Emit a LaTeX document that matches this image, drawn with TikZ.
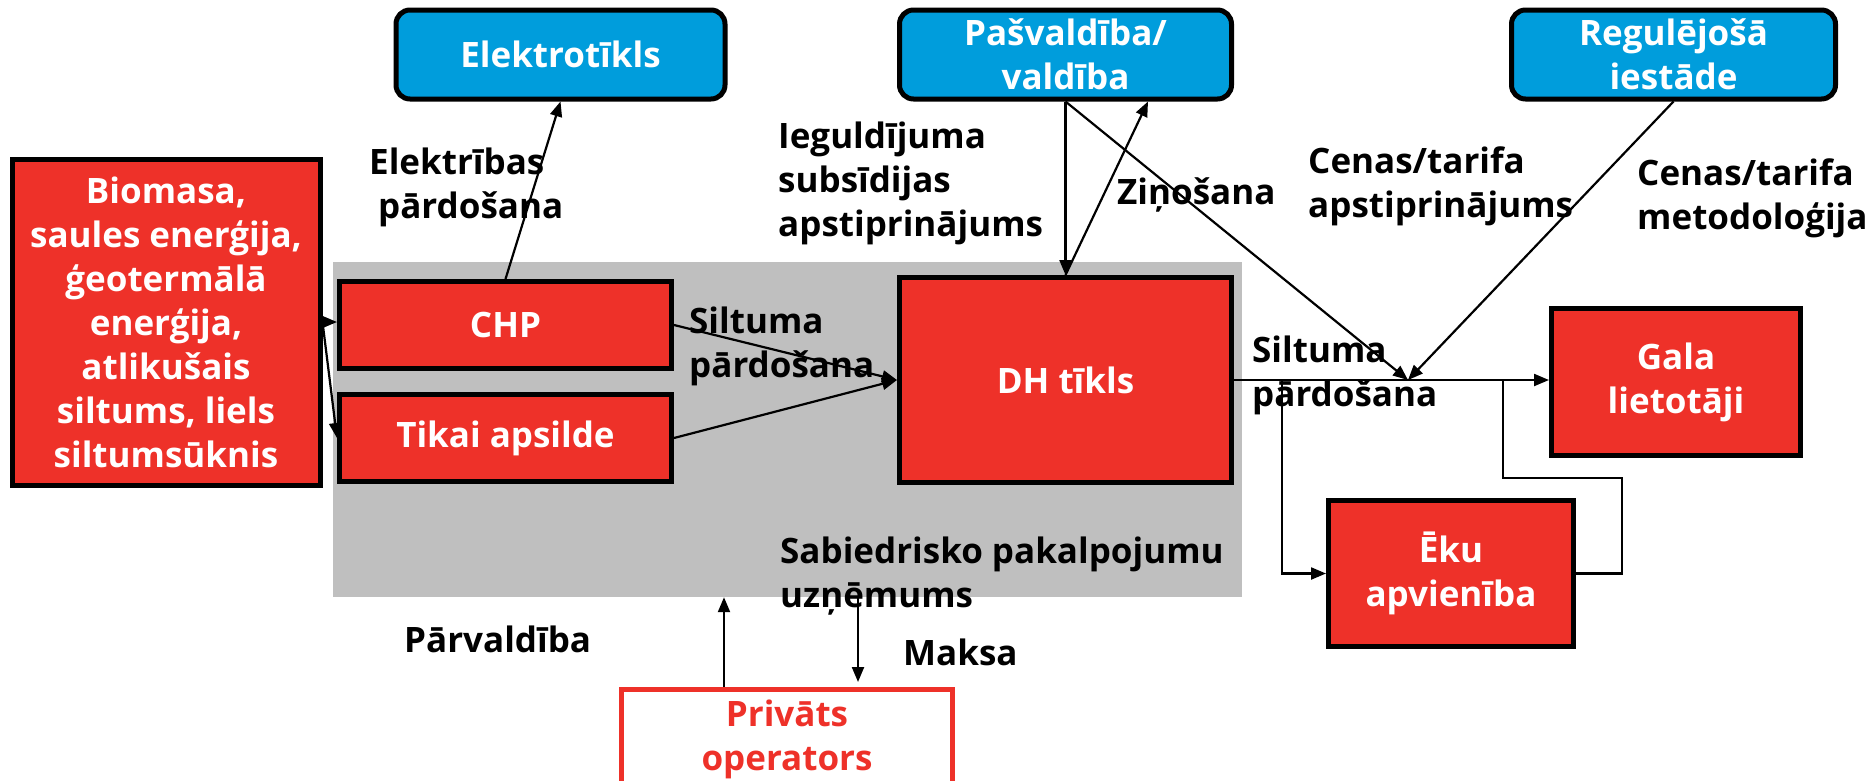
\documentclass[tikz,border=0pt]{standalone}
\usepackage{fontspec}
\setmainfont{Open Sans}
\usetikzlibrary{arrows.meta,calc}
\definecolor{boxred}{RGB}{238,49,41}
\definecolor{boxblue}{RGB}{0,157,220}
\definecolor{utilgrey}{RGB}{191,191,191}
\tikzset{
  txt/.style={font=\bfseries\fontsize{35}{44}\selectfont, inner sep=0pt, align=center},
  redbox/.style={txt, rectangle, draw=black, fill=boxred, text=white, line width=5pt},
  bluebox/.style={txt, rectangle, draw=black, fill=boxblue, text=white, line width=5pt, rounded corners=14pt},
  operbox/.style={txt, rectangle, draw=boxred, fill=white, text=boxred, line width=5pt},
  lbl/.style={font=\bfseries\fontsize{35}{44}\selectfont, inner sep=0pt, align=left, anchor=west},
  lblone/.style={font=\bfseries\fontsize{35}{44}\selectfont, inner sep=0pt, anchor=base west},
  conn/.style={line width=2.2pt, -{Triangle[length=15pt,width=12pt]}},
  plain/.style={line width=2.2pt},
}
\begin{document}
\begin{tikzpicture}[x=1pt,y=-1pt]
\useasboundingbox (0,0) rectangle (1869,780);
\clip (0,0) rectangle (1869,780);
\fill[white] (0,0) rectangle (1869,780);

% utility company area
\node[rectangle, fill=utilgrey, minimum width=909pt, minimum height=335pt, inner sep=0pt] (grey) at (787.5,429.5) {};

% external parties
\node[bluebox, minimum width=329pt, minimum height=89pt] (elek) at (560.5,54.5) {Elektrotīkls};
\node[bluebox, minimum width=332pt, minimum height=89pt] (pas) at (1065.5,54.5) {Pašvaldība/\\valdība};
\node[bluebox, minimum width=324pt, minimum height=89pt] (reg) at (1673.5,54.5) {Regulējošā\\iestāde};

% heat sources and production
\node[redbox, minimum width=308pt, minimum height=326pt] (bio) at (166,322) {Biomasa,\\saules enerģija,\\ģeotermālā\\enerģija,\\atlikušais\\siltums, liels\\siltumsūknis};
\node[redbox, minimum width=332pt, minimum height=87pt] (chp) at (505.5,325) {CHP};
\node[redbox, minimum width=332pt, minimum height=87pt] (tik) at (505.5,438) {Tikai apsilde};
\node[redbox, minimum width=332pt, minimum height=205pt] (dh) at (1065.5,380) {DH tīkls};

% consumers
\node[redbox, minimum width=249pt, minimum height=147pt] (gala) at (1676,382) {Gala\\lietotāji};
\node[redbox, minimum width=245pt, minimum height=146pt] (eku) at (1451,573.5) {Ēku\\apvienība};

% private operator
\node[operbox, minimum width=331pt, minimum height=99pt] (priv) at (787,739) {Privāts\\operators};

% flow labels
\node[lbl] (lelek) at (369,187) {Elektrības\\\hspace*{9pt}pārdošana};
\node[lbl] (linv) at (778,183) {Ieguldījuma\\subsīdijas\\apstiprinājums};
\node[lblone] (lrep) at (1117,204) {Ziņošana};
\node[lbl] (lappr) at (1308,186) {Cenas/tarifa\\apstiprinājums};
\node[lbl] (lmeth) at (1637,198) {Cenas/tarifa\\metodoloģija};
\node[lbl] (lsale1) at (689,346) {Siltuma\\pārdošana};
\node[lbl] (lsale2) at (1252,375) {Siltuma\\pārdošana};
\node[lbl] (lutil) at (780,576) {Sabiedrisko pakalpojumu\\uzņēmums};
\node[lblone] (lgov) at (404,652) {Pārvaldība};
\node[lblone] (lfee) at (903,665) {Maksa};

% junction points on the heat line
\coordinate (J) at (1408,380);
\coordinate (t1) at (1282,380);
\coordinate (t2) at (1503,380);
\coordinate (pu) at ([xshift=-63pt]priv.north);
\coordinate (pd) at ([xshift=71pt]priv.north);

% connectors
\draw[conn] (bio.east) -- (bio.east -| chp.west);
\draw[conn] (bio.east) -- (tik.west);
\draw[conn] (chp.north) -- (elek.south);
\draw[conn] (chp.east) -- (dh.west);
\draw[conn] (tik.east) -- (dh.west);
\draw[conn] (pas.south) -- (dh.north);
\draw[conn] (dh.north) -- ([xshift=82.5pt]pas.south);
\draw[conn] (pas.south) -- (J);
\draw[conn] (reg.south) -- (J);
\draw[conn] (dh.east) -- (dh.east -| gala.west);
\draw[conn] (t1) |- (eku.west);
\draw[plain] (t2) -- ++(0,98) -| ([xshift=46pt]eku.east) -- (eku.east);
\draw[conn] (pu) -- (pu |- grey.south);
\draw[conn, shorten >=5pt] (pd |- grey.south) -- (pd);
\end{tikzpicture}
\end{document}
